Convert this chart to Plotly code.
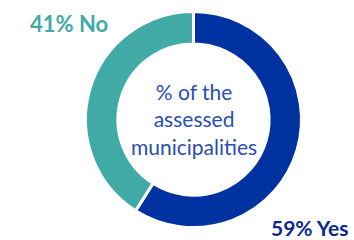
import plotly.graph_objects as go

labels = ["Yes", "No"]
values = [59, 41]
colors = ["#0033A1", "#41A9A6"]
center_text = "% of the<br>assessed<br>municipalities"

fig = go.Figure(go.Pie(
    labels=labels, values=values, hole=0.70, sort=False, direction="clockwise",
    rotation=0, textinfo="none", hoverinfo="label+percent",
    marker=dict(colors=colors, line=dict(color="white", width=3)),
    domain=dict(x=[0.2415, 0.8517], y=[0.052, 0.952]),
    showlegend=False,
))

fig.add_annotation(x=194 / 354, y=1 - 119 / 240, xref="paper", yref="paper", text=center_text,
                   xanchor="center", yanchor="middle",
                   showarrow=False, font=dict(family="Lato", size=21, color="#2A4DB3"),
                   align="center")
fig.add_annotation(x=69 / 354, y=1 - 23 / 240, xref="paper", yref="paper",
                   xanchor="center", yanchor="middle",
                   text=f"<b>{values[1]}% {labels[1]}</b>", showarrow=False,
                   font=dict(family="Lato", size=22, color=colors[1]))
fig.add_annotation(x=350 / 354, y=1 - 227 / 240, xref="paper", yref="paper",
                   xanchor="right", yanchor="middle", borderpad=0,
                   text=f"<b>{values[0]}% {labels[0]}</b>", showarrow=False,
                   font=dict(family="Lato", size=21, color="#0D2A8A"))

fig.update_layout(width=354, height=240, margin=dict(l=0, r=0, t=0, b=0),
                  paper_bgcolor="white", plot_bgcolor="white")
fig.write_html("out.html", config={"displayModeBar": False},
               post_script="document.body.style.margin='0';")
